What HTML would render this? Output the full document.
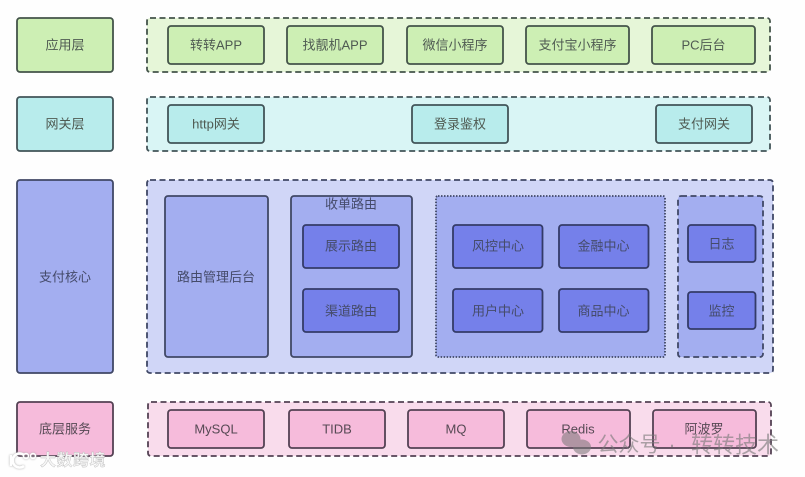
<!DOCTYPE html>
<html><head><meta charset="utf-8">
<style>
html,body{margin:0;padding:0;background:#fefefe;width:805px;height:477px;overflow:hidden}
svg{display:block}
text{font-family:"Liberation Sans","Noto Sans CJK SC",sans-serif;font-size:13px;text-anchor:middle;dominant-baseline:central;fill:#4f5a52}
.g rect{fill:#cdefb4;stroke:#44544a}
.c rect{fill:#b8ecec;stroke:#425458}
.b rect{fill:#a3aef0;stroke:#404866}
.d rect{fill:#7580ea;stroke:#343b68}
.p rect{fill:#f6bbdb;stroke:#544254}
rect{stroke-width:1.800}
.b text,.d text{fill:#454b6a}
.p text{fill:#564954}
.dash{stroke-dasharray:6 3.500}
</style></head><body>
<svg width="805" height="477" viewBox="0 0 805 477" xmlns="http://www.w3.org/2000/svg">
<!-- Application layer -->
<g class="g">
<rect x="17" y="18" width="96" height="54" rx="3"/><text x="65" y="45">应用层</text>
<rect class="dash" x="147" y="18" width="623" height="54" rx="3" style="fill:#e6f6d8"/>
<rect x="168" y="26" width="96" height="38" rx="3"/><text x="216" y="45">转转APP</text>
<rect x="287" y="26" width="96" height="38" rx="3"/><text x="335" y="45">找靓机APP</text>
<rect x="407" y="26" width="96" height="38" rx="3"/><text x="455" y="45">微信小程序</text>
<rect x="526" y="26" width="103" height="38" rx="3"/><text x="577.500" y="45">支付宝小程序</text>
<rect x="652" y="26" width="103" height="38" rx="3"/><text x="703.500" y="45">PC后台</text>
</g>
<!-- Gateway layer -->
<g class="c">
<rect x="17" y="97" width="96" height="54" rx="3"/><text x="65" y="124">网关层</text>
<rect class="dash" x="147" y="97" width="623" height="54" rx="3" style="fill:#d9f5f5"/>
<rect x="168" y="105" width="96" height="38" rx="3"/><text x="216" y="124">http网关</text>
<rect x="412" y="105" width="96" height="38" rx="3"/><text x="460" y="124">登录鉴权</text>
<rect x="656" y="105" width="96" height="38" rx="3"/><text x="704" y="124">支付网关</text>
</g>
<!-- Core -->
<g class="b">
<rect x="17" y="180" width="96" height="193" rx="3"/><text x="65" y="277">支付核心</text>
<rect class="dash" x="147" y="180" width="626" height="193" rx="3" style="fill:#d0d6f7"/>
<rect x="165" y="196" width="103" height="161" rx="3"/><text x="216" y="277">路由管理后台</text>
<rect x="291" y="196" width="121" height="161" rx="3"/><text x="351" y="204">收单路由</text>
<rect x="436" y="196" width="229" height="161" rx="2" style="stroke-dasharray:1.500 1.500"/>
<rect class="dash" x="678" y="196" width="85" height="161" rx="3"/>
</g>
<g class="d">
<rect x="303" y="225" width="96" height="43" rx="3"/><text x="351" y="246">展示路由</text>
<rect x="303" y="289" width="96" height="43" rx="3"/><text x="351" y="311">渠道路由</text>
<rect x="453" y="225" width="89.500" height="43" rx="3"/><text x="498" y="246">风控中心</text>
<rect x="559" y="225" width="89.500" height="43" rx="3"/><text x="603.500" y="246">金融中心</text>
<rect x="453" y="289" width="89.500" height="43" rx="3"/><text x="498" y="311">用户中心</text>
<rect x="559" y="289" width="89.500" height="43" rx="3"/><text x="603.500" y="311">商品中心</text>
<rect x="688" y="225" width="67.500" height="37" rx="3"/><text x="721.500" y="244">日志</text>
<rect x="688" y="292" width="67.500" height="37" rx="3"/><text x="721.500" y="311">监控</text>
</g>
<!-- Base services -->
<g class="p">
<rect x="17" y="402" width="96" height="54" rx="3"/><text x="65" y="429">底层服务</text>
<rect class="dash" x="148" y="402" width="623" height="54" rx="3" style="fill:#f9dcec"/>
<rect x="168" y="410" width="96" height="38" rx="3"/><text x="216" y="429">MySQL</text>
<rect x="289" y="410" width="96" height="38" rx="3"/><text x="337" y="429">TIDB</text>
<rect x="408" y="410" width="96" height="38" rx="3"/><text x="456" y="429">MQ</text>
<rect x="527" y="410" width="103" height="38" rx="3"/><text x="578" y="429">Redis</text>
<rect x="653" y="410" width="103" height="38" rx="3"/><text x="704" y="429">阿波罗</text>
</g>
<!-- Watermark right -->
<g opacity="0.55" fill="#777">
<ellipse cx="571" cy="439" rx="9.500" ry="8"/>
<ellipse cx="582" cy="447" rx="9" ry="7.500"/>
</g>
<g style="fill:#777;opacity:.6">
<text x="629" y="445" style="font-size:21px;fill:#777">公众号</text>
<text x="672" y="445" style="font-size:21px;fill:#777">·</text>
<text x="735" y="445" style="font-size:22px;fill:#777">转转技术</text>
</g>
<!-- Watermark left -->
<g fill="none" stroke="#fff" stroke-width="2.500" style="filter:drop-shadow(0 0 1px #aaa)">
<path d="M11 455v11M24 455a7 7 0 1 0 0 11"/>
<circle cx="26" cy="456" r="2.500" stroke-width="1.500"/><circle cx="33" cy="456" r="2.500" stroke-width="1.500"/>
</g>
<text x="73" y="461" style="font-size:16px;font-weight:700;fill:#f6f6f6;stroke:#bbb;stroke-width:.4;letter-spacing:.5px">大数跨境</text>
</svg>
</body></html>
